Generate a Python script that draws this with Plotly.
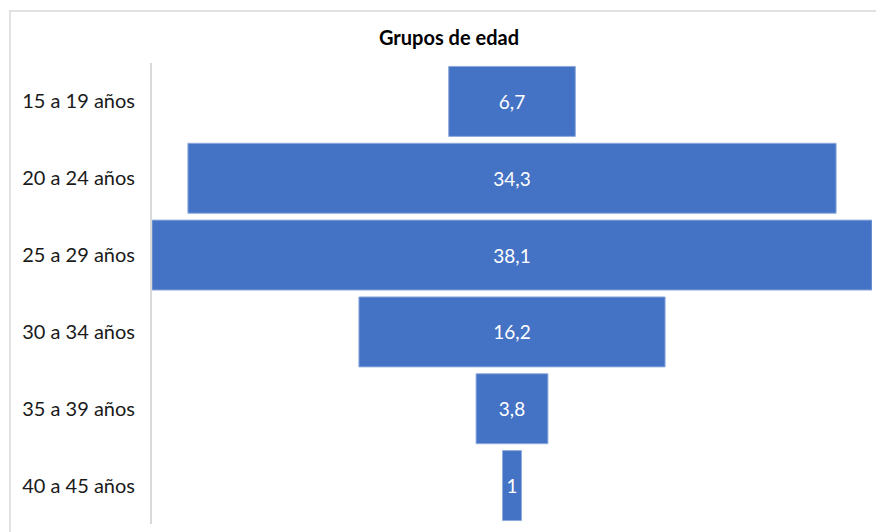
import plotly.graph_objects as go

categories = ["15 a 19 años", "20 a 24 años", "25 a 29 años", "30 a 34 años", "35 a 39 años", "40 a 45 años"]
values = [6.7, 34.3, 38.1, 16.2, 3.8, 1]
labels = [("%g" % v).replace(".", ",") for v in values]

W, H = 876, 532
L, R, T, B = 152, 4, 63, 8
pw, ph = W - L - R, H - T - B

def px_x(x):
    return (x - L) / pw

def px_y(y):
    return (H - B - y) / ph

FONT = "Lato, Carlito, sans-serif"

fig = go.Figure(go.Funnel(
    y=categories,
    x=values,
    text=labels,
    textinfo="text",
    textposition="inside",
    insidetextanchor="middle",
    constraintext="none",
    textfont=dict(family=FONT, size=19, color="white"),
    marker=dict(color="#4472C4", line=dict(color="#8EA9DB", width=1)),
    connector=dict(visible=False),
    hoverinfo="y+x",
))

fig.update_layout(
    width=W, height=H,
    margin=dict(l=L, r=R, t=T, b=B),
    paper_bgcolor="white",
    plot_bgcolor="white",
    funnelgap=0.09,
    showlegend=False,
    title=dict(
        text="<b>Grupos de edad</b>",
        x=px_x(449), xref="paper", xanchor="center",
        y=1 - 38 / H, yref="container", yanchor="middle",
        font=dict(family=FONT, size=20, color="#000000"),
    ),
    xaxis=dict(range=[-19.05, 19.05], visible=False, fixedrange=True),
    yaxis=dict(
        showline=True, linecolor="#D9D9D9", linewidth=2,
        showgrid=False, ticks="",
        ticklabelstandoff=11,
        tickfont=dict(family=FONT, size=20, color="#1A1A1A"),
    ),
    shapes=[
        dict(type="line", xref="paper", yref="paper",
             x0=px_x(9), x1=px_x(880), y0=px_y(11), y1=px_y(11),
             line=dict(color="#D9D9D9", width=1.5)),
        dict(type="line", xref="paper", yref="paper",
             x0=px_x(10), x1=px_x(10), y0=px_y(11), y1=px_y(540),
             line=dict(color="#D9D9D9", width=1.5)),
    ],
)

fig.write_html("out.html")
